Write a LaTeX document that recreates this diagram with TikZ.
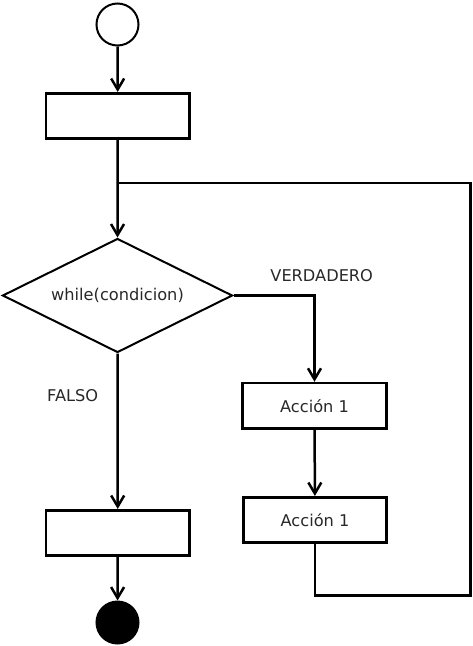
\documentclass[tikz,border=0pt]{standalone}
\usepackage{fontspec}
\setmainfont{DejaVu Sans}
\usetikzlibrary{shapes.geometric,arrows.meta}
\definecolor{txt}{RGB}{40,40,40}
\begin{document}
\begin{tikzpicture}[x=1pt,y=-1pt,
  box/.style={draw,line width=2.6pt,rectangle,minimum width=143.5pt,minimum height=45.5pt,inner sep=0pt,font=\fontsize{16.2}{18}\selectfont,text=txt},
  cond/.style={draw,line width=2pt,diamond,minimum width=230pt,minimum height=114pt,inner sep=0pt},
  lbl/.style={font=\fontsize{16.2}{18}\selectfont,text=txt,inner sep=0pt},
  conn/.style={line width=2.5pt},
  arr/.style={conn,-{Straight Barb[length=11pt,width=13pt]}}]
\useasboundingbox (0,0) rectangle (472,646);
\node[draw,circle,line width=2pt,minimum size=42pt,inner sep=0pt] (start) at (117.5,24.5) {};
\node[box] (r1) at (117.75,116) {};
\node[cond] (d) at (117.5,295.5) {};
\node[lbl] (dt) at (d.center) {while(condicion)};
\node[box] (a1) at (314.5,405.8) {Acción 1};
\node[box] (a2) at (315,520) {Acción 1};
\node[box] (r2) at (117.75,533) {};
\node[draw,circle,fill=black,line width=2pt,minimum size=42pt,inner sep=0pt] (end) at (117.5,622.5) {};
\node[lbl] (ver) at (321.7,276) {VERDADERO};
\node[lbl] (fal) at (72.7,396) {FALSO};
\coordinate (j) at (117.5,183);
\coordinate (lb) at (315,595.7);
\coordinate (lr) at (470.7,595.7);
\draw[arr] (start) -- (r1);
\draw[arr] (r1) -- (d.north);
\draw[conn] (a2.south) -- (lb) -- (lr) |- (j);
\draw[arr] (d.east) -| (a1.north);
\draw[arr] (a1) -- (a2);
\draw[arr] (d.south) -- (r2);
\draw[arr] (r2) -- (end);
\end{tikzpicture}
\end{document}
